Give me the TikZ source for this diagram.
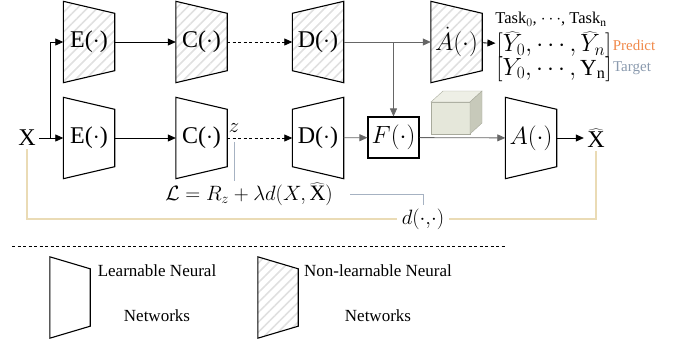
\documentclass[tikz,border=0pt]{standalone}
\usepackage{fontspec}
\setmainfont{Liberation Serif}
\usetikzlibrary{arrows.meta,patterns.meta,backgrounds}
\definecolor{tanline}{HTML}{EADBB5}
\definecolor{lossgray}{HTML}{A6B2C2}
\definecolor{predorange}{HTML}{F0894A}
\definecolor{targetgray}{HTML}{8A9AAE}
\definecolor{cubefront}{HTML}{E5E7DA}
\definecolor{cubetop}{HTML}{EEEFE6}
\definecolor{cubeside}{HTML}{C7C9BA}
\definecolor{cubeedge}{HTML}{A8AA9C}
\tikzset{
  net/.style={minimum width=51pt, minimum height=81pt, inner sep=0pt, font=\fontsize{24}{28}\selectfont},
  netline/.style={line width=1.1pt, line join=miter},
  hatch/.style={pattern={Lines[angle=45,distance=7pt,line width=1.6pt]}, pattern color=black!12},
  plain/.style={},
  flow/.style={-{Triangle[length=8pt,width=7pt]}, line width=0.8pt},
  dashline/.style={dash pattern=on 3pt off 2.5pt},
}

\begin{document}
\begin{tikzpicture}[x=1pt, y=-1pt]
    \useasboundingbox (0,0) rectangle (673,343);
    % networks
    \node[net] (e1) at (89,42) {E($\cdot$)};
    \node[net] (c1) at (201.5,42) {C($\cdot$)};
    \node[net] (d1) at (318,42) {D($\cdot$)};
    \node[net] (a1) at (456.5,42) {$\dot{A}(\cdot)$};
    \node[net] (e2) at (89,138) {E($\cdot$)};
    \node[net] (c2) at (201.5,138) {C($\cdot$)};
    \node[net] (d2) at (318,138) {D($\cdot$)};
    \node[net, minimum height=41pt, draw, line width=1.1pt] (f) at (393.5,137.5) {$F(\cdot)$};
    \node[net] (a2) at (531,138) {$A(\cdot)$};
    \node[font=\fontsize{24}{28}\selectfont] (x) at (27,138) {X};
    \node[font=\fontsize{24}{28}\selectfont] (xh) at (596,138) {$\widehat{\hbox{X}}$};
    \coordinate (split) at (50,138);
    \coordinate (tap) at (393.5,42);
    % outputs
    \node[font=\fontsize{16.5}{20}\selectfont] (task) at (551,19) {Task$_0$, $\cdots$, Task$_\mathrm{n}$};
    \node[font=\fontsize{23}{27}\selectfont, inner xsep=1pt] (pred) at (554,45) {$[\widehat{Y}_0,\cdots,\widehat{Y}_n]$};
    \node[font=\fontsize{23}{27}\selectfont] (targ) at (554,69) {$[Y_0,\cdots,\mathrm{Y_n}]$};
    \node[font=\fontsize{15}{18}\selectfont, text=predorange] (predlab) at (634,45) {Predict};
    \node[font=\fontsize{15}{18}\selectfont, text=targetgray] (targlab) at (632,68) {Target};
    % loss
    \node[font=\fontsize{20}{24}\selectfont] (z) at (234,128) {$z$};
    \node[font=\fontsize{22}{26}\selectfont, inner ysep=1pt] (loss) at (249,194) {$\mathcal{L} = R_z + \lambda d\bigl(X,\widehat{\hbox{X}}\bigr)$};
    \node[font=\fontsize{22}{26}\selectfont, fill=white, inner xsep=5pt] (dd) at (423,219) {$d(\cdot{,}\cdot)$};
    % legend
    \node[net, minimum width=40pt] (lgl) at (70,297.5) {};
    \node[net, minimum width=40pt] (lgn) at (278,297.5) {};
    \node[align=center, font=\fontsize{17}{45}\selectfont] (lgltext) at (157,293) {Learnable Neural\\Networks};
    \node[align=center, font=\fontsize{17}{45}\selectfont] (lgntext) at (378,293) {Non-learnable Neural\\Networks};

    \begin{scope}[on background layer]
        \foreach \n/\s in {e1/hatch, c1/hatch, a1/hatch, e2/plain, c2/plain, a2/plain, lgl/plain, lgn/hatch}
            \draw[netline, \s] (\n.north west) -- ([yshift=-12pt]\n.north east) -- ([yshift=12pt]\n.south east) -- (\n.south west) -- cycle;
        \foreach \n/\s in {d1/hatch, d2/plain}
            \draw[netline, \s] ([yshift=-12pt]\n.north west) -- (\n.north east) -- (\n.south east) -- ([yshift=12pt]\n.south west) -- cycle;
    \end{scope}

    % cube
    \filldraw[cubeedge, fill=cubefront] (431,102) rectangle (470,134);
    \filldraw[cubeedge, fill=cubetop] (431,102) -- (443,91) -- (482,91) -- (470,102) -- cycle;
    \filldraw[cubeedge, fill=cubeside] (470,102) -- (482,91) -- (482,123) -- (470,134) -- cycle;

    % connectors
    \draw[flow] (x) -- (e2);
    \draw[flow] (split) |- (e1);
    \draw[flow] (e1) -- (c1);
    \draw[flow, dashline] (c1) -- (d1);
    \draw[flow, black!60] (d1) -- (a1);
    \draw[flow, black!60] (tap) -- (f);
    \draw[flow] (a1) -- (pred);
    \draw[flow] (e2) -- (c2);
    \draw[flow, dashline] (c2) -- (d2);
    \draw[flow, black!60] (d2) -- (f);
    \draw[flow, black!60] (f) -- (a2);
    \draw[flow] (a2) -- (xh);
    \draw[lossgray, line width=1pt, shorten <=6pt] (z.south) -- (z.south |- loss.north);
    \draw[lossgray, line width=1pt] ([xshift=14pt]loss.east) -| (dd.north);
    \draw[tanline, line width=1.2pt] (x.south) |- (dd.west);
    \draw[tanline, line width=1.2pt] (dd.east) -| (xh.south);

    \draw[dashline, line width=0.6pt] (12,246) -- (505,246);
\end{tikzpicture}
\end{document}
